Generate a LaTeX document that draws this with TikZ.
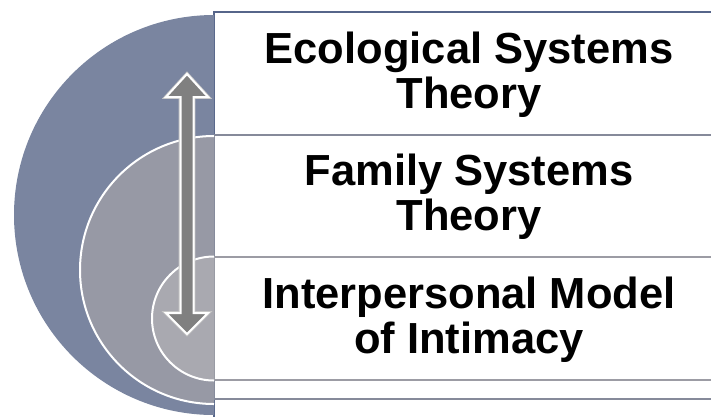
\documentclass[tikz,border=0pt]{standalone}
\usepackage{fontspec}
\setmainfont{Liberation Sans}
\begin{document}
\begin{tikzpicture}[x=1pt,y=-1pt,
  panel/.style={draw, line width=1.4pt, fill=white},
  ring/.style={draw=white, line width=2pt},
  label/.style={font=\fontsize{43.5}{45}\selectfont\bfseries, align=center, text=black, inner sep=0pt}]
  \definecolor{outerc}{HTML}{7A85A0}
  \definecolor{midc}{HTML}{9799A5}
  \definecolor{innerc}{HTML}{A9A9B0}
  \definecolor{edgeblue}{HTML}{56658A}
  \definecolor{edgegray}{HTML}{868A9A}
  \definecolor{edgelight}{HTML}{9C9CA4}
  \definecolor{arrowc}{HTML}{808080}

  \useasboundingbox (0,0) rectangle (711,416);
  \clip (0,0) rectangle (711,416);

  % text panels, from the outermost level inwards
  \draw[panel, draw=edgeblue]  (214,12)  rectangle (724,424);
  \draw[panel, draw=edgegray]  (214,135) rectangle (724,399);
  \draw[panel, draw=edgelight] (214,257) rectangle (724,380);

  % nested half discs (y grows downwards, so 270 is the top)
  \fill[outerc] (214,15) arc[start angle=270, end angle=90, radius=200] -- cycle;
  \fill[midc] (214,136) arc[start angle=270, end angle=90, radius=134] -- cycle;
  \draw[ring] (214,136) arc[start angle=270, end angle=90, radius=134];
  \fill[innerc] (214,256.5) arc[start angle=270, end angle=90, radius=62] -- cycle;
  \draw[ring] (214,256.5) arc[start angle=270, end angle=90, radius=62];

  % double-headed arrow across the levels
  \coordinate (up) at (187,74);
  \coordinate (down) at (187,334);
  \path[draw=gray!45, line width=3.6pt, line join=miter]
    (up) -- ++(21,23) -- ++(-14.5,0) -- ++(0,216) -- ++(14.5,0) -- (down)
    -- ++(-21,-21) -- ++(14.5,0) -- ++(0,-216) -- ++(-14.5,0) -- cycle;
  \path[fill=arrowc, draw=white, line width=2pt, line join=miter]
    (up) -- ++(21,23) -- ++(-14.5,0) -- ++(0,216) -- ++(14.5,0) -- (down)
    -- ++(-21,-21) -- ++(14.5,0) -- ++(0,-216) -- ++(-14.5,0) -- cycle;

  % labels
  \node[label] (t1) at (469,75) {Ecological Systems\\Theory};
  \node[label] (t2) at (469,197) {Family Systems\\Theory};
  \node[label] (t3) at (469,319.5) {Interpersonal Model\\of Intimacy};
\end{tikzpicture}
\end{document}
